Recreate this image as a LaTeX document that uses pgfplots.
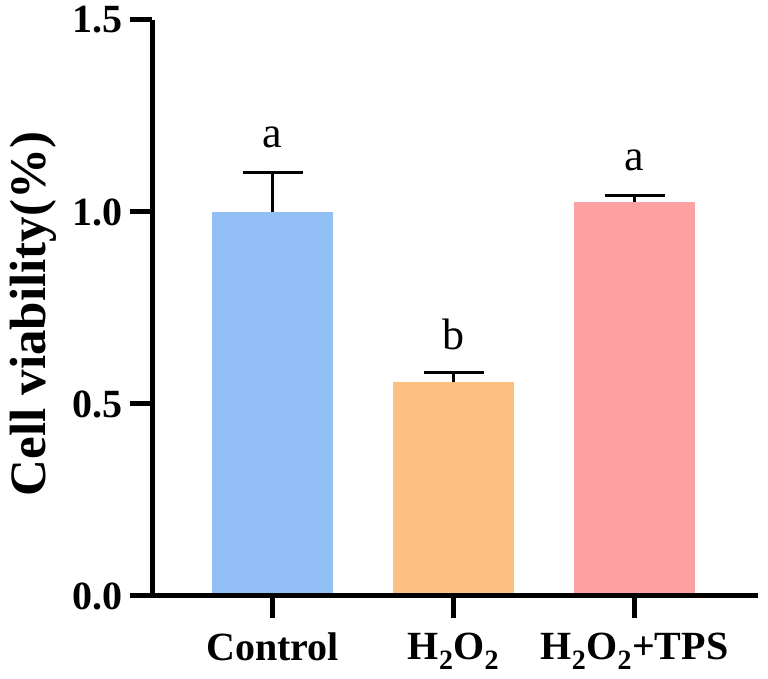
\documentclass[border=0pt]{standalone}
\usepackage{pgfplots}
\pgfplotsset{compat=1.18}
\usepackage{fontspec}
\setmainfont{Liberation Serif}
\definecolor{cblue}{RGB}{147,191,247}
\definecolor{corange}{RGB}{253,192,128}
\definecolor{cpink}{RGB}{253,160,161}
\begin{document}
\begin{tikzpicture}
\useasboundingbox (0,0) rectangle (768pt,679pt);
\begin{axis}[
  at={(152pt,83pt)}, anchor=south west,
  scale only axis, width=606pt, height=576pt,
  xmin=-0.6657, xmax=2.682, ymin=0, ymax=1.5,
  axis lines=left,
  axis line style={-, line width=5pt, black},
  ytick={0,0.5,1,1.5}, yticklabels={0.0,0.5,1.0,1.5},
  xtick={0,1,2},
  xticklabels={Control, H\textsubscript{2}O\textsubscript{2}, H\textsubscript{2}O\textsubscript{2}+TPS},
  tick align=outside, major tick length=22pt,
  tick style={line width=5pt, black},
  minor tick num=0,
  tick label style={font=\fontsize{40}{48}\selectfont\bfseries, inner sep=0pt},
  yticklabel style={xshift=-7pt},
  xticklabel style={yshift=-15pt},
  ybar, bar width=121pt,
  axis on top,
  clip=false,
]
\addplot[fill=cblue, draw=none, bar shift=0pt,
  error bars/.cd, y dir=plus, y explicit, error mark=|,
  error bar style={line width=3pt, black, draw=black},
  error mark options={line width=3pt, black, draw=black, mark size=30pt}]
  coordinates {(0,1.000) +- (0,0.102)};
\addplot[fill=corange, draw=none, bar shift=0pt,
  error bars/.cd, y dir=plus, y explicit, error mark=|,
  error bar style={line width=3pt, black, draw=black},
  error mark options={line width=3pt, black, draw=black, mark size=30pt}]
  coordinates {(1,0.557) +- (0,0.024)};
\addplot[fill=cpink, draw=none, bar shift=0pt,
  error bars/.cd, y dir=plus, y explicit, error mark=|,
  error bar style={line width=3pt, black, draw=black},
  error mark options={line width=3pt, black, draw=black, mark size=30pt}]
  coordinates {(2,1.026) +- (0,0.018)};
\node[font=\fontsize{44}{50}\selectfont, anchor=base] at (axis cs:0,1.167) {a};
\node[font=\fontsize{44}{50}\selectfont, anchor=base] at (axis cs:1,0.641) {b};
\node[font=\fontsize{44}{50}\selectfont, anchor=base] at (axis cs:2,1.109) {a};
\end{axis}
\node[rotate=90, anchor=base, font=\fontsize{51}{60}\selectfont\bfseries] at (45pt,365pt) {Cell viability(\%)};
\end{tikzpicture}
\end{document}
